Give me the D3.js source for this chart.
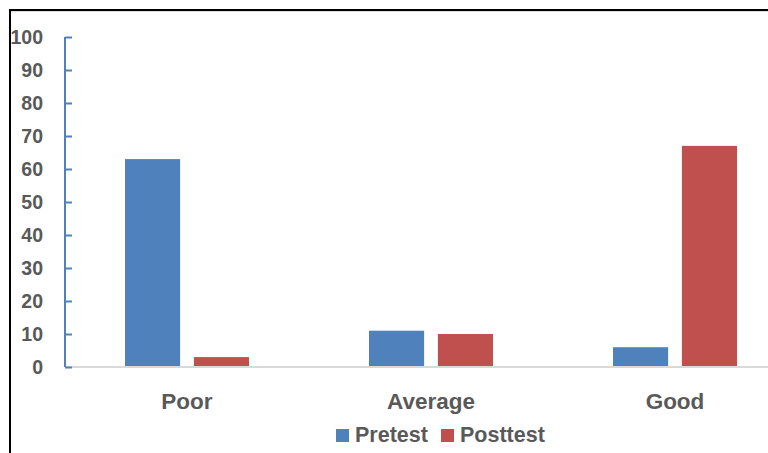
<!DOCTYPE html>
<html>
<head>
<meta charset="utf-8">
<script src="https://cdn.jsdelivr.net/npm/d3@7"></script>
<style>
  body { margin: 0; background: #fff; }
  svg { display: block; }
  text { font-family: "Liberation Sans", Arial, sans-serif; font-weight: bold; fill: #595959; }
</style>
</head>
<body>
<div id="chart"></div>
<script>
var categories = ["Poor", "Average", "Good"];
var seriesNames = ["Pretest", "Posttest"];
var pretest = [63, 11, 6];
var posttest = [3, 10, 67];
var yTicks = [0, 10, 20, 30, 40, 50, 60, 70, 80, 90, 100];
var colors = ["#4f81bd", "#c0504d"];

var width = 768,
  height = 453;

var svg = d3.select("#chart").append("svg")
  .attr("width", width)
  .attr("height", height);

// frame (top and left edges show)
svg.append("line")
  .attr("x1", 9).attr("y1", 10).attr("x2", width).attr("y2", 10)
  .style("stroke", "#000").style("stroke-width", 2);
svg.append("line")
  .attr("x1", 9).attr("y1", 11.5).attr("x2", width).attr("y2", 11.5)
  .style("stroke", "#ddd").style("stroke-width", 1);

var x0 = d3.scaleBand()
  .domain(categories)
  .range([65, 797]);

var x1 = d3.scaleBand()
  .domain(seriesNames)
  .range([60, 184])
  .paddingInner(0.2);

var y = d3.scaleLinear()
  .domain([0, 100])
  .range([367, 37]);

var rows = categories.map(function(c, i) {
  return { cat: c, values: [pretest[i], posttest[i]] };
});

// bars
var groups = svg.selectAll("g.cat")
  .data(rows)
  .enter().append("g")
  .attr("class", "cat")
  .attr("transform", function(d) { return "translate(" + x0(d.cat) + ",0)"; });

groups.selectAll("rect")
  .data(function(d) { return d.values.map(function(v, j) { return { s: seriesNames[j], v: v, j: j }; }); })
  .enter().append("rect")
  .attr("x", function(d) { return x1(d.s); })
  .attr("y", function(d) { return y(d.v); })
  .attr("width", x1.bandwidth())
  .attr("height", function(d) { return y(0) - y(d.v); })
  .style("fill", function(d) { return colors[d.j]; });

// x axis line
svg.append("line")
  .attr("x1", 65).attr("y1", y(0)).attr("x2", width).attr("y2", y(0))
  .style("stroke", "#d9d9d9").style("stroke-width", 2);

// y axis
var yAxis = svg.append("g")
  .attr("transform", "translate(65,0)")
  .call(d3.axisRight(y).tickValues(yTicks).tickSize(7).tickFormat(""));
yAxis.select(".domain").remove();
yAxis.selectAll(".tick line").style("stroke", "#4f81bd").style("stroke-width", 2);
svg.append("line")
  .attr("x1", 65).attr("y1", y(100)).attr("x2", 65).attr("y2", y(0))
  .style("stroke", "#4f81bd").style("stroke-width", 2);

svg.selectAll("text.ylab")
  .data(yTicks)
  .enter().append("text")
  .attr("class", "ylab")
  .attr("x", 43)
  .attr("y", function(d) { return y(d); })
  .attr("dy", "0.36em")
  .attr("text-anchor", "end")
  .style("font-size", "19.5px")
  .text(function(d) { return d; });

// category labels
svg.selectAll("text.xlab")
  .data(categories)
  .enter().append("text")
  .attr("class", "xlab")
  .attr("x", function(d) { return x0(d) + x0.bandwidth() / 2; })
  .attr("y", 408.5)
  .attr("text-anchor", "middle")
  .style("font-size", "22.5px")
  .text(function(d) { return d; });

// legend
var legendX = [336, 441];
var legend = svg.selectAll("g.legend")
  .data(seriesNames)
  .enter().append("g")
  .attr("class", "legend")
  .attr("transform", function(d, i) { return "translate(" + legendX[i] + ",429)"; });
legend.append("rect")
  .attr("width", 13).attr("height", 13)
  .style("fill", function(d, i) { return colors[i]; });
legend.append("text")
  .attr("x", 19).attr("y", 13)
  .style("font-size", "21.5px")
  .text(function(d) { return d; });

// left frame edge drawn last so it sits over the "100" label
svg.append("line")
  .attr("x1", 10).attr("y1", 9).attr("x2", 10).attr("y2", height)
  .style("stroke", "#000").style("stroke-width", 2);
</script>
</body>
</html>
